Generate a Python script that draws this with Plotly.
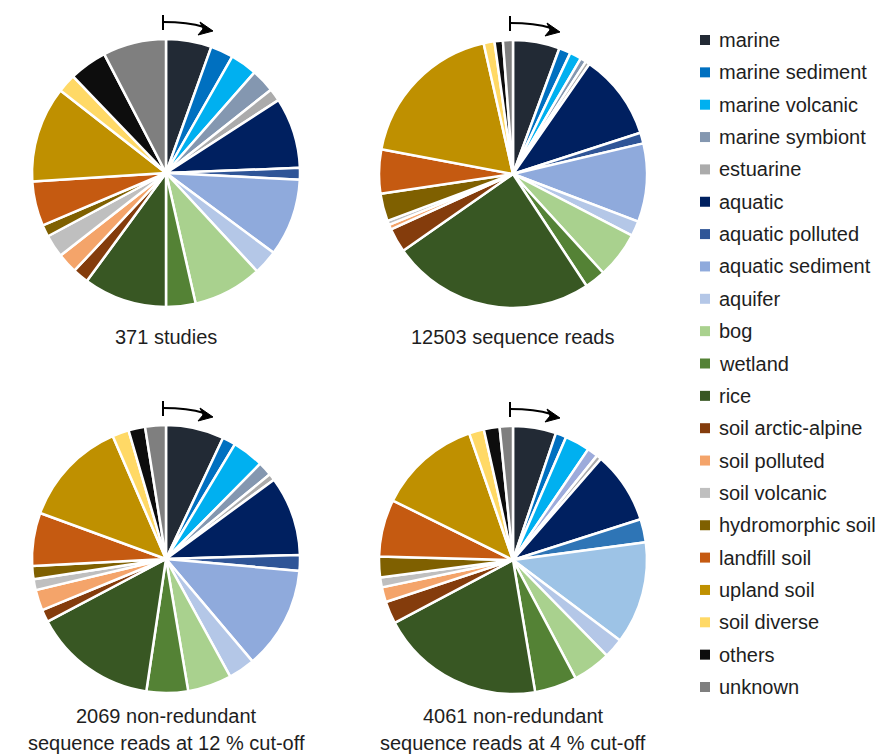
import plotly.graph_objects as go

W, H = 882, 756

categories = [
    "marine", "marine sediment", "marine volcanic", "marine symbiont", "estuarine",
    "aquatic", "aquatic polluted", "aquatic sediment", "aquifer", "bog", "wetland",
    "rice", "soil arctic-alpine", "soil polluted", "soil volcanic", "hydromorphic soil",
    "landfill soil", "upland soil", "soil diverse", "others", "unknown",
]

colors = [
    "#222A35", "#0070C0", "#00B0F0", "#8497B0", "#ABABAB",
    "#002060", "#2F5597", "#8FAADC", "#B4C7E7", "#A9D18E", "#548235",
    "#385723", "#843C0C", "#F4A46A", "#BFBFBF", "#7F6000",
    "#C55A11", "#BF9000", "#FFD966", "#0D0D0D", "#7F7F7F",
]

# the 4 % cut-off panel uses a slightly different blue set
colors_4pct = list(colors)
colors_4pct[3] = "#9DABDB"
colors_4pct[6] = "#2E75B6"
colors_4pct[7] = "#9DC3E6"

# shares in percent, in category order
studies = [5.4, 2.7, 3.2, 2.8, 1.5, 8.4, 1.4, 9.2, 2.9, 8.2, 3.5,
           9.9, 1.9, 2.4, 2.7, 1.4, 5.3, 11.4, 2.2, 4.5, 7.5]
reads = [5.6, 1.4, 1.4, 0.7, 0.5, 10.3, 1.3, 9.4, 1.8, 5.6, 2.5,
         24.4, 2.9, 0.6, 0.5, 3.3, 5.3, 18.4, 1.3, 1.0, 1.2]
reads_12pct = [7.0, 1.6, 3.8, 1.7, 0.8, 9.6, 1.9, 12.4, 3.2, 5.3, 5.0,
               14.9, 1.5, 2.5, 1.3, 1.6, 6.4, 12.9, 2.0, 2.0, 2.5]
reads_4pct = [5.2, 1.3, 3.0, 1.3, 0.6, 8.7, 2.8, 12.4, 2.4, 4.6, 5.1,
              19.9, 2.7, 1.8, 1.2, 2.5, 6.9, 12.4, 1.8, 1.9, 1.6]

captions = [
    ["371 studies"],
    ["12503 sequence reads"],
    ["2069 non-redundant", "sequence reads at 12 % cut-off"],
    ["4061 non-redundant", "sequence reads at 4 % cut-off"],
]

FONT = "Liberation Sans, Arial, sans-serif"
FS = 20
TEXT = "#1e1e1e"

# panel centres (px) and radius
centres = [(166, 173), (513, 174), (166, 559), (513, 560)]
R = 134
series = [studies, reads, reads_12pct, reads_4pct]
palettes = [colors, colors, colors, colors_4pct]
caption_y = [[337], [337], [716], [716, 743]]
caption_y[2] = [716, 743]


def px(x):
    return x / W


def py(y):
    return 1 - y / H


fig = go.Figure()
shapes = []
annotations = []

for (cx, cy), vals, pal, cap, cys in zip(centres, series, palettes, captions, caption_y):
    fig.add_trace(go.Pie(
        labels=categories, values=vals, sort=False, direction="clockwise",
        rotation=0, textinfo="none", hoverinfo="label+percent",
        marker=dict(colors=pal, line=dict(color="white", width=2.5)),
        domain=dict(x=[px(cx - R), px(cx + R)], y=[py(cy + R), py(cy - R)]),
        showlegend=False,
    ))
    # caption under the pie
    for line, ly in zip(cap, cys):
        annotations.append(dict(
            x=px(cx), y=py(ly), xref="paper", yref="paper",
            text=line, showarrow=False, xanchor="center", yanchor="middle",
            font=dict(family=FONT, size=FS, color=TEXT),
        ))
    # clockwise direction marker above the pie
    top = cy - 158
    shapes.append(dict(type="line", xref="paper", yref="paper",
                       x0=px(cx - 3), x1=px(cx - 3), y0=py(top), y1=py(top + 15),
                       line=dict(color="black", width=2)))
    shapes.append(dict(type="path", xref="paper", yref="paper",
                       path=f"M {px(cx - 3)},{py(top + 7)} Q {px(cx + 22)},{py(top + 7)} {px(cx + 38)},{py(top + 12)}",
                       line=dict(color="black", width=2)))
    shapes.append(dict(type="path", xref="paper", yref="paper",
                       path=(f"M {px(cx + 47)},{py(top + 16)} L {px(cx + 34)},{py(top + 7)} "
                             f"L {px(cx + 37)},{py(top + 14)} L {px(cx + 32)},{py(top + 20)} Z"),
                       fillcolor="black", line=dict(color="black", width=1)))

# legend column
LX, LY0, LDY, SQ = 705, 40, 32.35, 10
for i, (name, col) in enumerate(zip(categories, colors)):
    yc = LY0 + i * LDY
    shapes.append(dict(type="rect", xref="paper", yref="paper",
                       x0=px(LX - SQ / 2), x1=px(LX + SQ / 2),
                       y0=py(yc + SQ / 2), y1=py(yc - SQ / 2),
                       fillcolor=col, line=dict(width=0)))
    annotations.append(dict(
        x=px(LX + 12), y=py(yc), xref="paper", yref="paper", text=name,
        showarrow=False, xanchor="left", yanchor="middle",
        font=dict(family=FONT, size=FS, color=TEXT),
    ))

fig.update_layout(
    width=W, height=H, margin=dict(l=0, r=0, t=0, b=0),
    paper_bgcolor="white", plot_bgcolor="white",
    shapes=shapes, annotations=annotations, showlegend=False,
)

fig.write_html("out.html")
